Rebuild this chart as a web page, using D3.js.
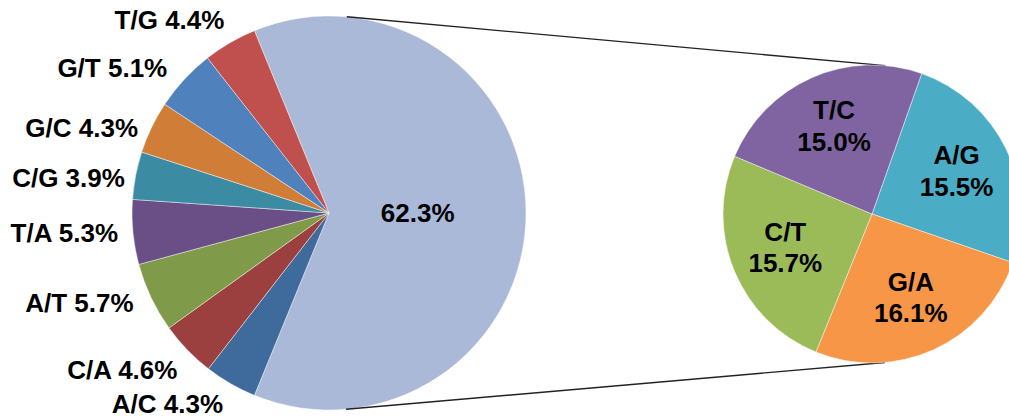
<!DOCTYPE html>
<html>
<head>
<meta charset="utf-8">
<script src="https://cdn.jsdelivr.net/npm/d3@7"></script>
<style>
  html, body { margin: 0; padding: 0; background: #fff; }
  svg { display: block; }
  text { font-family: "Liberation Sans", Arial, sans-serif; font-weight: bold; fill: #000; }
</style>
</head>
<body>
<svg id="chart" width="1009" height="419"></svg>
<script>
// Substitution types shown individually in the main pie (clockwise after the grouped slice)
const mainCategories = ["A/C", "C/A", "A/T", "T/A", "C/G", "G/C", "G/T", "T/G"];
const mainValues = [4.3, 4.6, 5.7, 5.3, 3.9, 4.3, 5.1, 4.4];
const mainColors = ["#3E6A9C", "#9B403E", "#7F9A48", "#6A4F86", "#3B8CA2", "#D07E37", "#4F81BD", "#C0504D"];

// Grouped share (transitions), broken out in the secondary pie
const groupedValue = 62.3;
const groupedColor = "#AAB9D8";

const subCategories = ["A/G", "G/A", "C/T", "T/C"];
const subValues = [15.5, 16.1, 15.7, 15.0];
const subColors = ["#4BACC6", "#F79646", "#9BBB59", "#8064A2"];

// Layout
const main = { cx: 329, cy: 213, r: 197 };
const sub = { cx: 872, cy: 214, r: 149, start: 19.5 * Math.PI / 180 };
const fontSize = 26;
// Small hand adjustments of the outside labels [dx, dy]
const labelNudge = [[0, 7], [1, 9], [-4, -1], [0, -1], [4, 5], [0, 7], [-6, -2], [2, -10]];

const svg = d3.select("#chart");
const fmt = v => v.toFixed(1) + "%";

// ---- Main pie ----
const mainData = [{ name: null, value: groupedValue, color: groupedColor }]
  .concat(mainCategories.map((c, i) => ({ name: c, value: mainValues[i], color: mainColors[i] })));
const mainTotal = d3.sum(mainData, d => d.value);
const groupedSpan = groupedValue / mainTotal * 2 * Math.PI;
const mainStart = Math.PI / 2 - groupedSpan / 2;

const mainPie = d3.pie().sort(null).value(d => d.value)
  .startAngle(mainStart).endAngle(mainStart + 2 * Math.PI);
const mainArcs = mainPie(mainData);
const mainArc = d3.arc().innerRadius(0).outerRadius(main.r);

const gMain = svg.append("g").attr("transform", `translate(${main.cx},${main.cy})`);
gMain.selectAll("path").data(mainArcs).join("path")
  .attr("d", mainArc)
  .attr("fill", d => d.data.color)
  .attr("stroke", "rgba(255,255,255,0.55)")
  .attr("stroke-width", 0.8);

// Label inside the grouped slice
const innerArc = d3.arc().innerRadius(main.r * 0.45).outerRadius(main.r * 0.45);
gMain.append("text")
  .attr("transform", `translate(${innerArc.centroid(mainArcs[0])})`)
  .attr("text-anchor", "middle")
  .attr("dy", "0.36em")
  .style("font-size", fontSize + "px")
  .text(fmt(groupedValue));

// Outside labels for the individual slices
const labelR = main.r + 15;
gMain.selectAll("text.out").data(mainArcs.slice(1)).join("text")
  .attr("class", "out")
  .attr("x", (d, i) => labelR * Math.sin((d.startAngle + d.endAngle) / 2) + labelNudge[i][0])
  .attr("y", (d, i) => -labelR * Math.cos((d.startAngle + d.endAngle) / 2) + labelNudge[i][1])
  .attr("dy", "0.36em")
  .attr("text-anchor", "end")
  .style("font-size", fontSize + "px")
  .text(d => d.data.name + " " + fmt(d.data.value));

// ---- Connector lines: outer tangents of the two circles ----
const dx = sub.cx - main.cx, dy = sub.cy - main.cy;
const dist = Math.hypot(dx, dy);
const base = Math.atan2(dy, dx);
const phi = Math.acos((main.r - sub.r) / dist);
[base - phi, base + phi].forEach(a => {
  svg.append("line")
    .attr("x1", main.cx + main.r * Math.cos(a))
    .attr("y1", main.cy + main.r * Math.sin(a))
    .attr("x2", sub.cx + sub.r * Math.cos(a))
    .attr("y2", sub.cy + sub.r * Math.sin(a))
    .attr("stroke", "#222")
    .attr("stroke-width", 1.4);
});

// ---- Secondary pie ----
const subData = subCategories.map((c, i) => ({ name: c, value: subValues[i], color: subColors[i] }));
const subPie = d3.pie().sort(null).value(d => d.value)
  .startAngle(sub.start).endAngle(sub.start + 2 * Math.PI);
const subArcs = subPie(subData);
const subArc = d3.arc().innerRadius(0).outerRadius(sub.r);
const subLabelArc = d3.arc().innerRadius(sub.r * 0.63).outerRadius(sub.r * 0.63);

const gSub = svg.append("g").attr("transform", `translate(${sub.cx},${sub.cy})`);
gSub.selectAll("path").data(subArcs).join("path")
  .attr("d", subArc)
  .attr("fill", d => d.data.color)
  .attr("stroke", "rgba(255,255,255,0.55)")
  .attr("stroke-width", 0.8);

const subText = gSub.selectAll("text").data(subArcs).join("text")
  .attr("transform", d => `translate(${subLabelArc.centroid(d)})`)
  .attr("text-anchor", "middle")
  .style("font-size", fontSize + "px");
subText.append("tspan").attr("x", 0).attr("dy", "-0.34em").text(d => d.data.name);
subText.append("tspan").attr("x", 0).attr("dy", "1.2em").text(d => fmt(d.data.value));
</script>
</body>
</html>
